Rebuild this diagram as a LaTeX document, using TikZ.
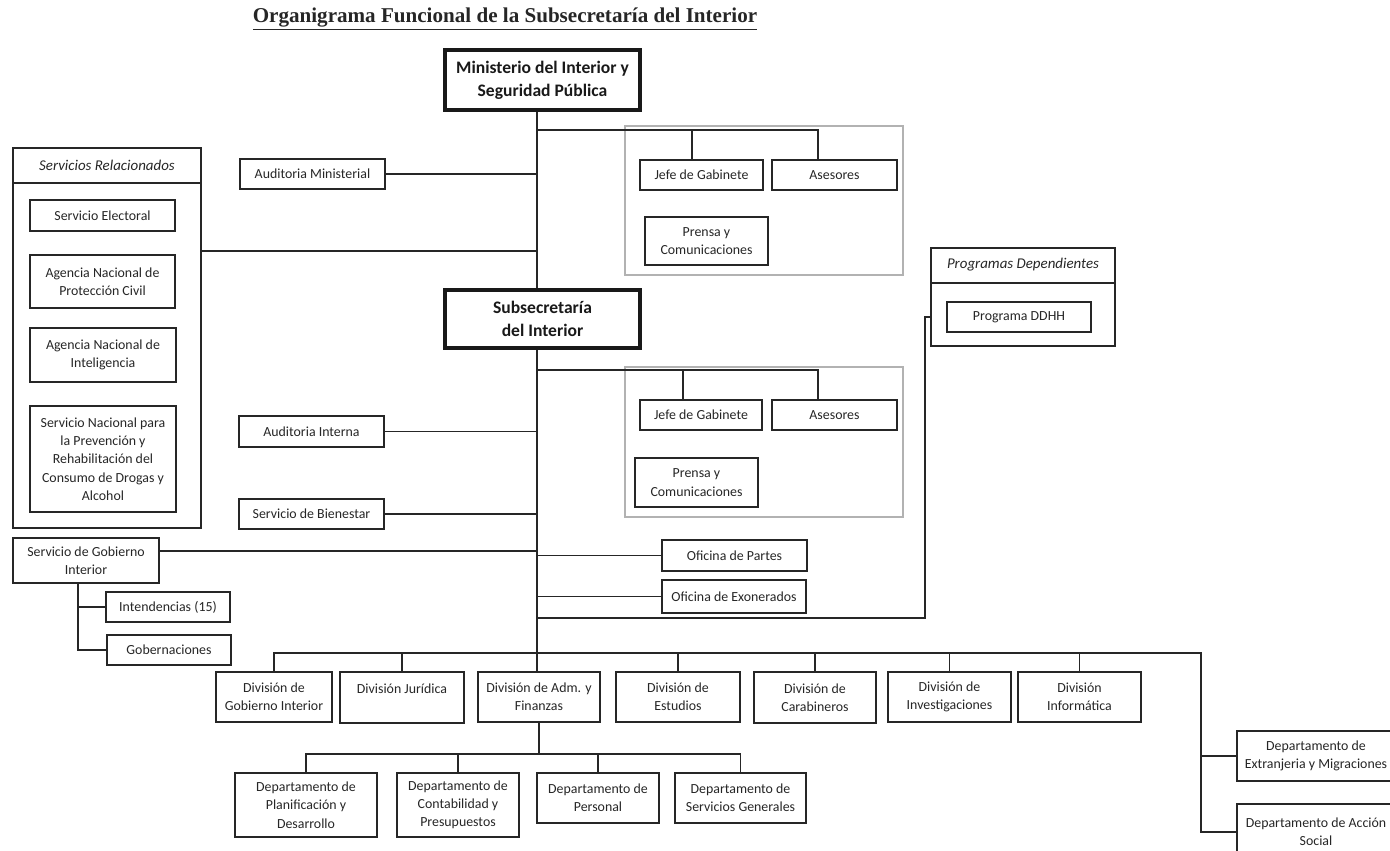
\documentclass[tikz,border=0pt]{standalone}
\usepackage{fontspec}
\setmainfont{Carlito}
\newfontfamily\titlefont{Liberation Serif}

\begin{document}
\begin{tikzpicture}[x=0.02cm,y=-0.02cm,
    sz/.style 2 args={minimum width=#1*0.02cm,minimum height=#2*0.02cm},
    unit/.style={draw=black!85,line width=1.1pt,inner sep=1pt,align=center,text=black!85,font=\fontsize{7.9}{10.4}\selectfont},
    head/.style={unit,line width=1.8pt,draw=black!90,text=black!90,font=\fontsize{10}{13}\selectfont\bfseries},
    grp/.style={draw=black!30,line width=1pt,inner sep=0},
    grpcap/.style={text=black!85,font=\fontsize{8.5}{10}\selectfont\itshape},
    link/.style={draw=black!85,line width=1.1pt}]
  \useasboundingbox (0,0) rectangle (1390,851);
  \clip (0,0) rectangle (1390,851);

  \node[text=black!85,font=\titlefont\bfseries\fontsize{12}{14}\selectfont] (ttl) at (505,19) {\underline{Organigrama Funcional de la Subsecretaría del Interior}};

  \node[head,sz={195}{60}] (min) at (542.5,80) {Ministerio del Interior y\\Seguridad Pública};
  \node[head,sz={195}{58}] (sub) at (542.5,319) {Subsecretaría\\del Interior};
  \coordinate (trk) at (537,653);

  \node[grp,sz={278}{149}] (grpA) at (764,200.5) {};
  \node[unit,sz={123}{30}] (jefeA) at (701.5,175) {Jefe de Gabinete};
  \node[unit,sz={125}{30}] (aseA) at (834.5,175) {Asesores};
  \node[unit,sz={123}{48}] (prensaA) at (706.5,241) {Prensa y\\Comunicaciones};
  \node[grp,sz={278}{150}] (grpB) at (764,442) {};
  \node[unit,sz={122}{30}] (jefeB) at (701,415) {Jefe de Gabinete};
  \node[unit,sz={125}{30}] (aseB) at (834.5,415) {Asesores};
  \node[unit,sz={123}{49}] (prensaB) at (696.5,482.5) {Prensa y\\Comunicaciones};

  \node[unit,sz={188}{380}] (srv) at (107,338) {};
  \node[grpcap] (srvcap) at (107,165) {Servicios Relacionados};
  \node[unit,sz={145}{31}] (selec) at (102.5,215.5) {Servicio Electoral};
  \node[unit,sz={145}{53}] (anpc) at (102.5,281.5) {Agencia Nacional de\\Protección Civil};
  \node[unit,sz={146}{54}] (ani) at (103,355) {Agencia Nacional de\\Inteligencia};
  \node[unit,sz={146}{106}] (senda) at (103,459) {Servicio Nacional para\\la Prevención y\\Rehabilitación del\\Consumo de Drogas y\\Alcohol};
  \node[unit,sz={145}{30}] (audmin) at (312.5,174) {Auditoria Ministerial};
  \node[unit,sz={145}{31}] (audint) at (311.5,431.5) {Auditoria Interna};
  \node[unit,sz={145}{30}] (bienes) at (311.5,514) {Servicio de Bienestar};
  \node[unit,sz={146}{45}] (sgi) at (86,560.5) {Servicio de Gobierno\\Interior};
  \node[unit,sz={124}{30}] (intend) at (168,607) {Intendencias (15)};
  \node[unit,sz={124}{30}] (gober) at (169,650) {Gobernaciones};

  \node[unit,sz={145}{31}] (ofpar) at (734.5,555.5) {Oficina de Partes};
  \node[unit,sz={144}{33}] (ofexo) at (734,596.5) {Oficina de Exonerados};
  \node[unit,sz={184}{98}] (pdo) at (1023,297) {};
  \node[grpcap] (pdocap) at (1023,265) {Programas Dependientes};
  \node[unit,sz={144}{30}] (ddhh) at (1019,317) {Programa DDHH};

  \node[unit,sz={116}{50}] (dgi) at (274,697) {División de\\Gobierno Interior};
  \node[unit,sz={124}{51}] (djur) at (402,697.5) {División Jurídica\\~};
  \node[unit,sz={122}{50}] (dadm) at (539,697) {División de Adm. y\\Finanzas};
  \node[unit,sz={124}{50}] (dest) at (678,697) {División de\\Estudios};
  \node[unit,sz={122}{51}] (dcar) at (815,697.5) {División de\\Carabineros};
  \node[unit,sz={123}{50}] (dinv) at (949.5,697) {División de\\Investigaciones};
  \node[unit,sz={123}{50}] (dinf) at (1079.5,697) {División\\Informática};
  \coordinate (busR) at (1201,653);
  \node[unit,sz={158}{50}] (dext) at (1316,756) {Departamento de\\Extranjeria y Migraciones};
  \node[unit,sz={158}{56}] (dacc) at (1316,832) {Departamento de Acción\\Social};

  \node[unit,sz={142}{64}] (dplan) at (306,805) {Departamento de\\Planificación y\\Desarrollo};
  \node[unit,sz={122}{64}] (dcont) at (458,805) {Departamento de\\Contabilidad y\\Presupuestos};
  \node[unit,sz={122}{50}] (dpers) at (598,798) {Departamento de\\Personal};
  \node[unit,sz={131}{50}] (dserv) at (740.5,798) {Departamento de\\Servicios Generales};

  \coordinate (jA) at (0,130);
  \coordinate (jB) at (0,370);
  \coordinate (jsr) at (0,251);
  \coordinate (jsh) at (0,183);
  \coordinate (jph) at (0,283);
  \coordinate (jpv) at (925,618);
  \coordinate (dbus) at (535,754);

  \draw[link] (srv.west |- jsh) -- (srv.east |- jsh);
  \draw[link] (pdo.west |- jph) -- (pdo.east |- jph);

  \draw[link] (min.south -| trk) -- (sub.north -| trk);
  \draw[link] (sub.south -| trk) -- (dadm.north -| trk);
  \draw[link] (trk |- jA) -| ([xshift=-0.33cm]aseA.north);
  \draw[link] ([xshift=-0.19cm]jefeA.north) -- ([xshift=-0.19cm]jefeA.north |- jA);
  \draw[link] (trk |- jB) -| ([xshift=-0.33cm]aseB.north);
  \draw[link] ([xshift=-0.36cm]jefeB.north) -- ([xshift=-0.36cm]jefeB.north |- jB);
  \draw[link] (audmin.east) -- (audmin.east -| trk);
  \draw[link] (srv.east |- jsr) -- (trk |- jsr);
  \draw[link] (audint.east) -- (audint.east -| trk);
  \draw[link] (bienes.east) -- (bienes.east -| trk);
  \draw[link] ([yshift=0.19cm]sgi.east) -- ([yshift=0.19cm]sgi.east -| trk);
  \draw[link] ([xshift=-0.16cm]sgi.south) |- (intend.west);
  \draw[link] ([xshift=-0.16cm]sgi.south) |- (gober.west);
  \draw[link] (ofpar.west) -- (ofpar.west -| trk);
  \draw[link] (ofexo.west) -- (ofexo.west -| trk);
  \draw[link] (trk |- jpv) -- (jpv) |- (pdo.west |- ddhh.west);

  \draw[link] (dgi.north) |- (busR) |- (dacc.west);
  \draw[link] (busR |- dext.west) -- (dext.west);
  \foreach \d in {djur,dest,dcar,dinv,dinf}
    \draw[link] (\d.north) -- (\d.north |- busR);
  \draw[link] (dadm.south) -- (dadm.south |- dbus);
  \draw[link] (dplan.north) |- (dbus) -| (dserv.north);
  \foreach \d in {dcont,dpers}
    \draw[link] (\d.north) -- (\d.north |- dbus);
\end{tikzpicture}
\end{document}
